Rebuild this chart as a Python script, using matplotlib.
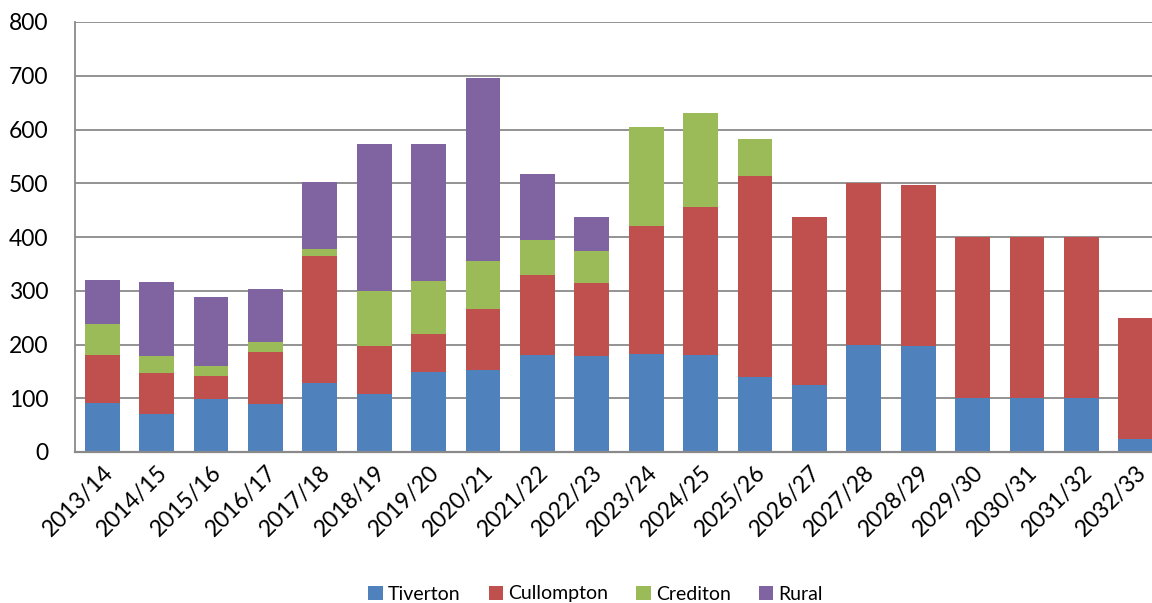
import numpy as np
import matplotlib
matplotlib.use("Agg")
import matplotlib.pyplot as plt

years = ["2013/14", "2014/15", "2015/16", "2016/17", "2017/18", "2018/19", "2019/20",
         "2020/21", "2021/22", "2022/23", "2023/24", "2024/25", "2025/26", "2026/27",
         "2027/28", "2028/29", "2029/30", "2030/31", "2031/32", "2032/33"]
tiverton = [92, 70, 98, 89, 128, 107, 149, 152, 180, 178, 183, 181, 139, 125, 200, 197, 100, 100, 100, 25]
cullompton = [88, 77, 44, 97, 237, 91, 71, 114, 149, 137, 237, 275, 374, 313, 300, 299, 300, 300, 300, 225]
crediton = [58, 32, 18, 18, 12, 102, 99, 90, 66, 59, 184, 175, 70, 0, 0, 0, 0, 0, 0, 0]
rural = [82, 137, 128, 100, 125, 273, 254, 339, 123, 64, 0, 0, 0, 0, 0, 0, 0, 0, 0, 0]

plt.rcParams['font.family'] = ['Lato', 'DejaVu Sans']

fig = plt.figure(figsize=(11.52, 6.03), dpi=100)
ax = fig.add_axes([75 / 1152, 1 - 452 / 603, 1088 / 1152, 430 / 603])

x = np.arange(len(years))
w = 0.64
series = [("Tiverton", tiverton, "#4F81BD"), ("Cullompton", cullompton, "#C0504D"),
          ("Crediton", crediton, "#9BBB59"), ("Rural", rural, "#8064A2")]
bottom = np.zeros(len(years))
for name, vals, col in series:
    vals = np.array(vals)
    ax.bar(x, vals, w, bottom=bottom, color=col, label=name, zorder=3)
    bottom += vals

ax.set_xlim(-0.5, len(years) - 0.5)
ax.set_ylim(0, 800)
ax.set_yticks(range(0, 801, 100))
ax.yaxis.grid(True, color="#8a8a8a", linewidth=1.3, zorder=0)
for s in ["top", "right"]:
    ax.spines[s].set_visible(False)
ax.spines["left"].set_color("#8a8a8a")
ax.spines["left"].set_linewidth(1.3)
ax.spines["bottom"].set_color("#8a8a8a")
ax.spines["bottom"].set_linewidth(1.6)
ax.spines["bottom"].set_zorder(4)
ax.tick_params(length=0, labelsize=16.5)
ax.tick_params(axis="y", pad=19)
ax.tick_params(axis="x", pad=7)
ax.set_xticks(x)
ax.set_xticklabels(years, rotation=45, ha="right", rotation_mode="anchor")

handles, labels = ax.get_legend_handles_labels()
fig.legend(handles, labels, loc="center", bbox_to_anchor=(0.517, 1 - 594 / 603), ncol=4,
           frameon=False, fontsize=14, handlelength=0.75, handleheight=0.75,
           handletextpad=0.25, columnspacing=1.45)

fig.savefig("out.png", dpi=100)
